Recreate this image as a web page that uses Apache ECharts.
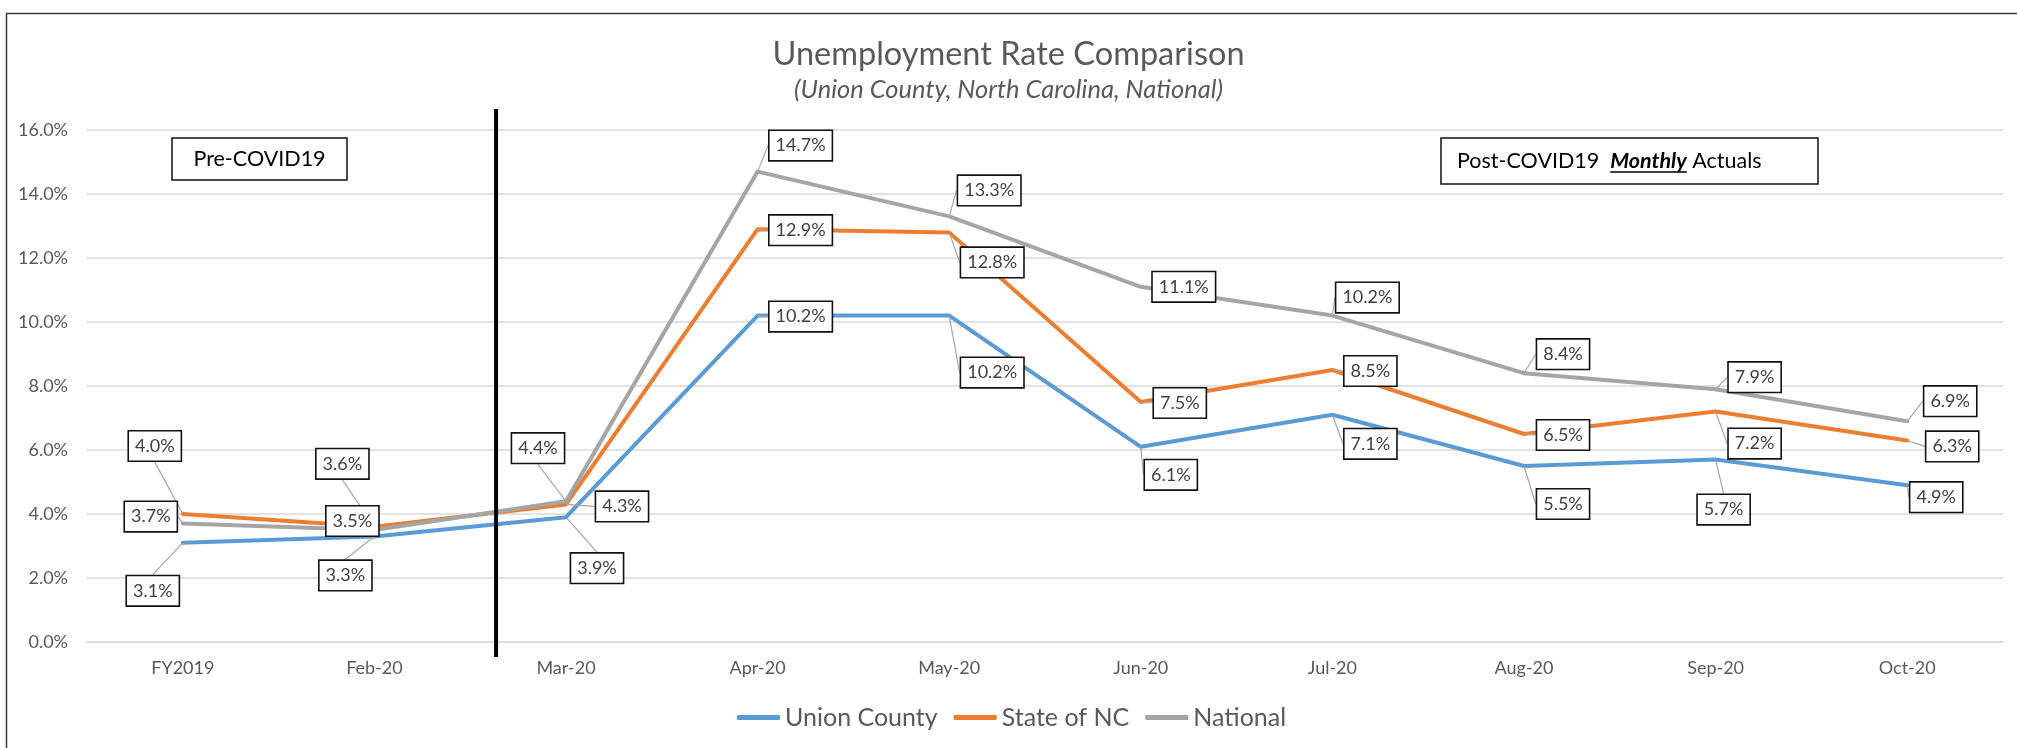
<!DOCTYPE html>
<html>
<head>
<meta charset="utf-8">
<script src="https://cdn.jsdelivr.net/npm/echarts@6/dist/echarts.min.js"></script>
<style>
html,body{margin:0;padding:0;background:#fff;}
#chart{width:2017px;height:748px;}
</style>
</head>
<body>
<div id="chart"></div>
<script>
// ---- data ----
const categories = ['FY2019','Feb-20','Mar-20','Apr-20','May-20','Jun-20','Jul-20','Aug-20','Sep-20','Oct-20'];
const unionCounty = [3.1, 3.3, 3.9, 10.2, 10.2, 6.1, 7.1, 5.5, 5.7, 4.9];
const stateNC     = [4.0, 3.6, 4.3, 12.9, 12.8, 7.5, 8.5, 6.5, 7.2, 6.3];
const national    = [3.7, 3.5, 4.4, 14.7, 13.3, 11.1, 10.2, 8.4, 7.9, 6.9];
const yTicks = [0, 2, 4, 6, 8, 10, 12, 14, 16];

// label placement (offset of label centre from its point, px)
const labelOffsets = [
  [[-30,48],[-29,39],[31,51],[43,1],[43,57],[30,28],[38,29],[39,38],[8,50],[29,12]],
  [[-28,-68],[-32,-63],[56,2],[43,1],[43,30],[39,1],[38,1],[39,1],[39,32],[45,6]],
  [[-32,-7],[-22,-9],[-28,-53],[43,-26],[40,-26],[43,0],[35,-18],[39,-19],[39,-12],[43,-20]]
];

const FONT = 'Lato, "Open Sans", sans-serif';
const colors = ['#5B9BD5', '#ED7D31', '#A5A5A5'];

const chart = echarts.init(document.getElementById('chart'), null, {renderer: 'canvas'});

function makeSeries(name, data, idx) {
  return {
    name: name,
    type: 'line',
    data: data,
    symbol: 'circle',
    symbolSize: 1,
    lineStyle: {width: 4, color: colors[idx], cap: 'round', join: 'round'},
    itemStyle: {color: colors[idx]},
    emphasis: {disabled: true},
    label: {
      show: true,
      position: 'top',
      formatter: p => p.value.toFixed(1) + '%',
      fontFamily: FONT,
      fontSize: 18,
      color: '#404040',
      backgroundColor: '#ffffff',
      borderColor: '#111111',
      borderWidth: 1.6,
      padding: [6, 6, 5, 6]
    },
    labelLine: {
      show: true,
      lineStyle: {color: '#A6A6A6', width: 1.2}
    },
    labelLayout: function (p) {
      const o = labelOffsets[p.seriesIndex][p.dataIndex];
      return {
        x: p.rect.x + p.rect.width / 2 + o[0],
        y: p.rect.y + p.rect.height / 2 + o[1],
        align: 'center',
        verticalAlign: 'middle'
      };
    }
  };
}

const option = {
  backgroundColor: '#ffffff',
  animation: false,
  color: colors,
  textStyle: {fontFamily: FONT},
  title: {
    text: 'Unemployment Rate Comparison',
    subtext: '(Union County, North Carolina, National)',
    left: 'center',
    top: 33,
    itemGap: 6,
    textStyle: {fontFamily: FONT, fontSize: 32.5, fontWeight: 'normal', color: '#595959'},
    subtextStyle: {fontFamily: FONT, fontSize: 25.5, fontStyle: 'italic', color: '#595959'}
  },
  legend: {
    left: 732,
    top: 700,
    icon: 'roundRect',
    itemWidth: 43,
    itemHeight: 5,
    itemGap: 16,
    textStyle: {fontFamily: FONT, fontSize: 25, color: '#595959'},
    data: ['Union County', 'State of NC', 'National']
  },
  grid: {left: 87, right: 14, top: 130, bottom: 106, containLabel: false},
  xAxis: {
    type: 'category',
    data: categories,
    boundaryGap: true,
    axisLine: {show: true, lineStyle: {color: '#D9D9D9', width: 1.5}},
    axisTick: {show: false},
    axisLabel: {fontFamily: FONT, fontSize: 18, color: '#595959', margin: 17}
  },
  yAxis: {
    type: 'value',
    min: yTicks[0],
    max: yTicks[yTicks.length - 1],
    interval: yTicks[1] - yTicks[0],
    axisLine: {show: false},
    axisTick: {show: false},
    splitLine: {lineStyle: {color: '#D9D9D9', width: 1.5}},
    axisLabel: {fontFamily: FONT, fontSize: 18, color: '#595959', margin: 19,
      formatter: v => v.toFixed(1) + '%'}
  },
  series: [
    makeSeries('Union County', unionCounty, 0),
    makeSeries('State of NC', stateNC, 1),
    makeSeries('National', national, 2)
  ]
};
chart.setOption(option);

// ---- annotations ----
const xFeb = chart.convertToPixel({xAxisIndex: 0}, 'Feb-20');
const xMar = chart.convertToPixel({xAxisIndex: 0}, 'Mar-20');
const sepX = xFeb + 0.635 * (xMar - xFeb);
const sepTop = chart.convertToPixel({yAxisIndex: 0}, 16.66);
const sepBot = chart.convertToPixel({yAxisIndex: 0}, -0.47);

const boxFont = 21.5;
const ctx = document.createElement('canvas').getContext('2d');
ctx.font = boxFont + 'px ' + FONT;
const w1 = ctx.measureText('Post-COVID19  ').width;
ctx.font = 'italic bold ' + boxFont + 'px ' + FONT;
const w2 = ctx.measureText('Monthly').width;
const postTextX = 1457;

chart.setOption({
  graphic: [
    {type: 'rect', left: 4, top: 11, silent: true, z: 0,
      shape: {width: 2100, height: 800},
      style: {fill: 'none', stroke: '#3a3a3a', lineWidth: 1.5}},
    {type: 'line', silent: true, z: 50,
      shape: {x1: sepX, y1: sepTop, x2: sepX, y2: sepBot},
      style: {stroke: '#000000', lineWidth: 4}},
    {type: 'rect', silent: true, z: 50,
      shape: {x: 172, y: 138, width: 175, height: 42},
      style: {fill: '#ffffff', stroke: '#111111', lineWidth: 1.5}},
    {type: 'text', silent: true, z: 51, x: 259.5, y: 159,
      style: {text: 'Pre-COVID19', fontFamily: FONT, fontSize: boxFont, fill: '#000000',
        align: 'center', verticalAlign: 'middle'}},
    {type: 'rect', silent: true, z: 50,
      shape: {x: 1441, y: 138, width: 377, height: 46},
      style: {fill: '#ffffff', stroke: '#111111', lineWidth: 1.5}},
    {type: 'text', silent: true, z: 51, x: postTextX, y: 161,
      style: {
        text: '{a|Post-COVID19  }{b|Monthly}{a| Actuals}',
        verticalAlign: 'middle', align: 'left',
        rich: {
          a: {fontFamily: FONT, fontSize: boxFont, fill: '#000000'},
          b: {fontFamily: FONT, fontSize: boxFont, fontStyle: 'italic', fontWeight: 'bold', fill: '#000000'}
        }
      }},
    {type: 'line', silent: true, z: 51,
      shape: {x1: postTextX + w1, y1: 172, x2: postTextX + w1 + w2, y2: 172},
      style: {stroke: '#000000', lineWidth: 1.5}}
  ]
});
</script>
</body>
</html>
